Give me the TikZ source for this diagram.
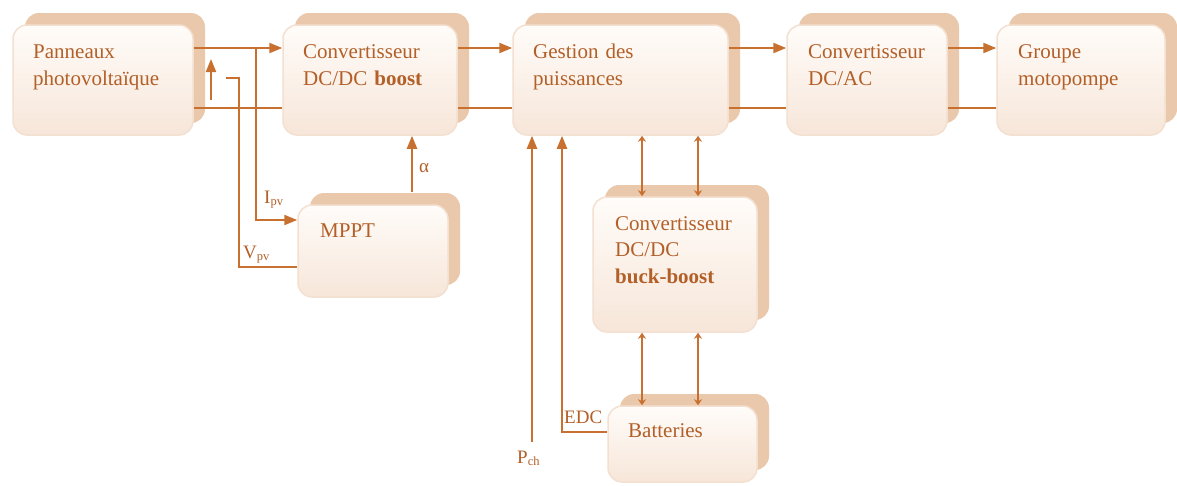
\documentclass[tikz,border=0pt]{standalone}
\usepackage{fontspec}
\setmainfont{Liberation Serif}
\usetikzlibrary{arrows.meta,shadows,calc}
\definecolor{linec}{RGB}{200,112,48}
\definecolor{textc}{RGB}{178,95,40}
\definecolor{shadowc}{RGB}{234,200,172}
\definecolor{boxtop}{RGB}{255,252,249}
\definecolor{boxbot}{RGB}{247,230,217}
\definecolor{boxedge}{RGB}{243,224,208}
\newcommand\mysub[1]{\raisebox{-0.3ex}{\fontsize{12.5}{12.5}\selectfont #1}}
\begin{document}
\begin{tikzpicture}[x=1pt,y=-1pt,
  box/.style={draw=boxedge, line width=1.5pt, rounded corners=14pt, top color=boxtop, bottom color=boxbot,
    inner sep=0pt,
    general shadow={fill=shadowc, draw=none, shadow xshift=12pt, shadow yshift=12pt}},
  txt/.style={text=textc, inner sep=0pt, anchor=base west, text width=190pt, align=left,
    font=\fontsize{21}{27}\selectfont},
  lbl/.style={text=textc, inner sep=0pt, anchor=base west, font=\fontsize{19}{22}\selectfont},
  conn/.style={draw=linec, line width=2pt},
  arr/.style={conn, -{Triangle[length=13pt,width=10pt]}},
  darr/.style={draw=linec, line width=1.5pt, {Stealth[length=6pt,width=8pt,inset=2pt]}-{Stealth[length=6pt,width=8pt,inset=2pt]}}
]
\useasboundingbox (0,0) rectangle (1177,485);
\fill[white] (0,0) rectangle (1177,485);

% boxes
\node[box, minimum width=180pt, minimum height=110pt] (pv) at (103,80) {};
\node[box, minimum width=174pt, minimum height=110pt] (boost) at (370,80) {};
\node[box, minimum width=215pt, minimum height=110pt] (gest) at (620.5,80) {};
\node[box, minimum width=160pt, minimum height=110pt] (dcac) at (867,80) {};
\node[box, minimum width=168pt, minimum height=110pt] (moto) at (1081,80) {};
\node[box, minimum width=150pt, minimum height=92pt] (mppt) at (373,251) {};
\node[box, minimum width=164pt, minimum height=135pt] (bb) at (675,264.5) {};
\node[box, minimum width=149pt, minimum height=76pt] (batt) at (682.5,444) {};

% texts
\node[txt] (pvt) at (33,58) {Panneaux\\photovoltaïque};
\node[txt] (boostt) at (303,58) {Convertisseur\\DC/DC \textbf{boost}};
\node[txt] (gestt) at (533,58) {Gestion des\\puissances};
\node[txt] (dcact) at (808,58) {Convertisseur\\DC/AC};
\node[txt] (motot) at (1018,58) {Groupe\\motopompe};
\node[txt] (mpptt) at (320,237) {MPPT};
\node[txt, font=\fontsize{21}{26.5}\selectfont] (bbt) at (615,230) {Convertisseur\\DC/DC\\\textbf{buck-boost}};
\node[txt] (battt) at (628,437) {Batteries};

% main chain
\draw[arr] ([yshift=32pt]pv.east) -- ([yshift=32pt]boost.west);
\draw[conn] ([yshift=-28pt]pv.east) -- ([yshift=-28pt]boost.west);
\draw[arr] ([yshift=32pt]boost.east) -- ([yshift=32pt]gest.west);
\draw[conn] ([yshift=-28pt]boost.east) -- ([yshift=-28pt]gest.west);
\draw[arr] ([yshift=32pt]gest.east) -- ([yshift=32pt]dcac.west);
\draw[conn] ([yshift=-28pt]gest.east) -- ([yshift=-28pt]dcac.west);
\draw[arr] ([yshift=32pt]dcac.east) -- ([yshift=32pt]moto.west);
\draw[conn] ([yshift=-28pt]dcac.east) -- ([yshift=-28pt]moto.west);

% MPPT measurements
\coordinate (ipvtap) at (256,48);
\draw[arr] (ipvtap) |- ([yshift=31pt]mppt.west);
\coordinate (vpvs) at (226,78);
\draw[conn] (vpvs) -- ++(13,0) |- ([yshift=-16pt]mppt.west);
\coordinate (upa) at (211,100);
\coordinate (upb) at (211,59);
\draw[arr] (upa) -- (upb);
\coordinate (alpha0) at ([xshift=39pt,yshift=12pt]mppt.north);
\draw[arr] (alpha0) -- (alpha0 |- boost.south);

\node[lbl] (ipvl) at (264,203) {I\mysub{pv}};
\node[lbl] (vpvl) at (243,258) {V\mysub{pv}};
\node[lbl, anchor=west] (alphal) at (419,168) {α};

% power management inputs
\coordinate (pch) at (532,442);
\draw[arr] (pch) -- (pch |- gest.south);
\node[lbl] (pchl) at (517,463) {P\mysub{ch}};
\draw[arr] ([yshift=12pt]batt.west) -| ([xshift=-58.5pt]gest.south);
\node[lbl] (edcl) at (564,423) {EDC};

% bidirectional links
\draw[darr] ([xshift=-33pt]bb.north) -- ([xshift=-33pt]bb.north |- gest.south);
\draw[darr] ([xshift=23pt]bb.north) -- ([xshift=23pt]bb.north |- gest.south);
\draw[darr] ([xshift=-33pt]bb.south) -- ([xshift=-33pt]bb.south |- batt.north);
\draw[darr] ([xshift=23pt]bb.south) -- ([xshift=23pt]bb.south |- batt.north);
\end{tikzpicture}
\end{document}
